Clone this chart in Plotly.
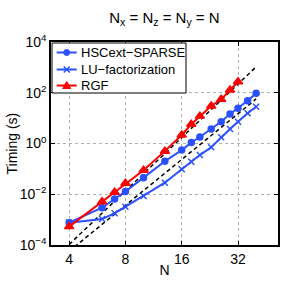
import plotly.graph_objects as go

N = [4, 6, 7, 8, 10, 13, 16, 18, 20, 23, 26, 29, 32, 36, 40]
hsc = [7.6e-4, 2.95e-3, 6.5e-3, 0.0129, 0.045, 0.2, 0.55, 1.1, 1.8, 3.7, 7.2, 14.5, 24.4, 48.6, 95]
lu = [7.6e-4, 1.05e-3, 1.78e-3, 3.2e-3, 8.6e-3, 0.0285, 0.096, 0.19, 0.35, 0.71, 1.75, 3.7, 7.2, 15.5, 28]
N_rgf = [4, 6, 7, 8, 10, 13, 16, 18, 20, 23, 26, 29, 32]
rgf = [5.3e-4, 5.1e-3, 0.012, 0.027, 0.088, 0.5, 2.16, 5.7, 12, 30, 55, 128, 272]

ref_N = [4, 40]
ref7 = [1.05e-4, 1.05e3]
ref6 = [5.7e-5, 57]

series_names = ["HSCext−SPARSE", "LU−factorization", "RGF"]

xticks = [4, 8, 16, 32]
xticktext = ["4", "8", "16", "32"]
yticks = [1e-4, 1e-2, 1, 1e2, 1e4]
yticktext = ["10<sup>−4</sup>", "10<sup>−2</sup>", "10<sup>0</sup>", "10<sup>2</sup>", "10<sup>4</sup>"]

blue = "#2b50ff"
red = "#ff0000"
colors = [blue, blue, red]
symbols = ["circle", "x-thin", "triangle-up"]
msizes = [6, 6, 8]

fig = go.Figure()
fig.add_trace(go.Scatter(x=ref_N, y=ref7, mode="lines", showlegend=False,
                         line=dict(color="black", width=1.5, dash="4px,3px")))
fig.add_trace(go.Scatter(x=ref_N, y=ref6, mode="lines", showlegend=False,
                         line=dict(color="black", width=1.5, dash="4px,3px")))
for xs, ys, nm, c, s, ms in zip([N, N, N_rgf], [hsc, lu, rgf], series_names, colors, symbols, msizes):
    fig.add_trace(go.Scatter(x=xs, y=ys, mode="lines+markers", name=nm, showlegend=False,
                             line=dict(color=c, width=2),
                             marker=dict(symbol=s, size=ms, color=c, line=dict(color=c, width=1.5))))

# legend box drawn in plot-area fractions (plot area is 227 x 203 px)
W, H = 227.0, 203.0
def fx(px):
    return px / W
def fy(py):
    return 1 - py / H

dom = dict(xref="x domain", yref="y domain", layer="above")
fig.add_shape(type="rect", x0=fx(1), x1=fx(135), y0=fy(51), y1=fy(1),
              line=dict(color="black", width=1), fillcolor="white", **dom)
leg_rows_px = [10.5, 27.5, 43.5]
cx = 15.7
for nm, c, s, ry in zip(series_names, colors, symbols, leg_rows_px):
    fig.add_shape(type="line", x0=fx(cx - 10), x1=fx(cx + 10), y0=fy(ry), y1=fy(ry),
                  line=dict(color=c, width=2), **dom)
    if s == "circle":
        fig.add_shape(type="circle", x0=fx(cx - 3), x1=fx(cx + 3), y0=fy(ry + 3), y1=fy(ry - 3),
                      line=dict(color=c, width=1), fillcolor=c, **dom)
    elif s == "x-thin":
        for d in (1, -1):
            fig.add_shape(type="line", x0=fx(cx - 3), x1=fx(cx + 3), y0=fy(ry - 3 * d), y1=fy(ry + 3 * d),
                          line=dict(color=c, width=1.5), **dom)
    else:
        path = "M {:.5f},{:.5f} L {:.5f},{:.5f} L {:.5f},{:.5f} Z".format(
            fx(cx - 4), fy(ry + 3), fx(cx + 4), fy(ry + 3), fx(cx), fy(ry - 4))
        fig.add_shape(type="path", path=path, line=dict(color=c, width=1), fillcolor=c, **dom)
    fig.add_annotation(x=fx(27.5), y=fy(ry), xref="x domain", yref="y domain", text=nm,
                       showarrow=False, xanchor="left", yanchor="middle",
                       font=dict(size=13, color="black"))

# y axis title as rotated text at the far left
fig.add_annotation(x=fx(11 - 51), y=0.5, xref="x domain", yref="y domain", text="Timing (s)",
                   showarrow=False, textangle=-90, xanchor="center", yanchor="middle",
                   font=dict(size=14, color="black"))

axis_common = dict(showline=True, linecolor="black", linewidth=1.5, mirror="ticks",
                   ticks="inside", ticklen=4, tickcolor="black", automargin=False,
                   showgrid=True, gridcolor="#b0b0b0", gridwidth=1, griddash="dot",
                   zeroline=False, tickfont=dict(size=14, color="black"))

fig.update_xaxes(type="log", range=[0.505, 1.719], tickvals=xticks, ticktext=xticktext,
                 title=dict(text="N", font=dict(size=14, color="black"), standoff=0),
                 **axis_common)
fig.update_yaxes(type="log", range=[-4, 4], tickvals=yticks, ticktext=yticktext,
                 **axis_common)

fig.update_layout(
    width=291, height=292,
    margin=dict(l=51, r=13, t=42, b=47),
    paper_bgcolor="white", plot_bgcolor="white",
    font=dict(family="Liberation Sans, Arial, sans-serif", color="black"),
    title=dict(text="N<sub>x</sub> = N<sub>z</sub> = N<sub>y</sub> = N",
               x=0.565, xanchor="center", y=0.94, yanchor="middle",
               font=dict(size=15, color="black")),
    showlegend=False,
)

fig.write_html("out.html", config={"displayModeBar": False},
               post_script="document.body.style.margin='0px';")
